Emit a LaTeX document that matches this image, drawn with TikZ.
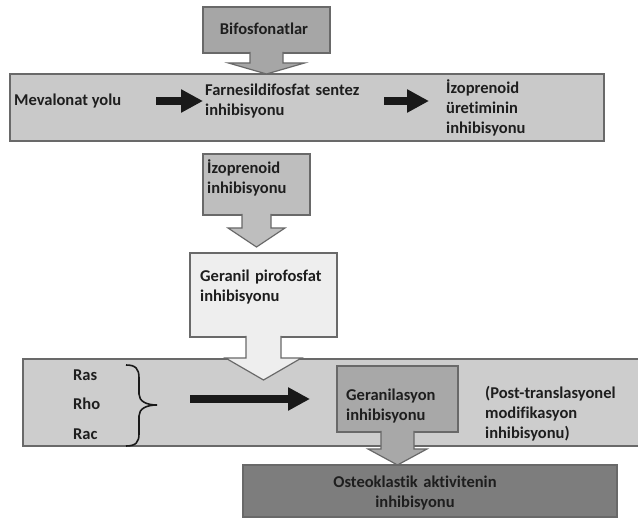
\documentclass[tikz,border=0pt]{standalone}
\usepackage{fontspec}
\setmainfont{Carlito}[Ligatures=NoCommon]
\usepackage{tikz}
\usetikzlibrary{arrows.meta, calc}
\definecolor{boxline}{RGB}{105,105,105}
\definecolor{textdark}{RGB}{30,30,30}
\definecolor{arrowblack}{RGB}{25,25,25}
\definecolor{bifosgray}{RGB}{166,166,166}
\definecolor{mevgray}{RGB}{201,201,201}
\definecolor{izogray}{RGB}{190,190,190}
\definecolor{geranilgray}{RGB}{238,238,238}
\definecolor{rasgray}{RGB}{205,205,205}
\definecolor{geranilasyongray}{RGB}{168,168,168}
\definecolor{osteogray}{RGB}{125,125,125}
\newcommand{\blockdown}[6]{%
  \draw[draw=boxline, line width=1.2pt, fill=#6]
    ([xshift=-#3, yshift=1pt]#1.south) -- ([xshift=-#3, yshift=#5]#2) -- ([xshift=-#4, yshift=#5]#2) -- (#2)
    -- ([xshift=#4, yshift=#5]#2) -- ([xshift=#3, yshift=#5]#2) -- ([xshift=#3, yshift=1pt]#1.south);}

\begin{document}
\begin{tikzpicture}[x=1pt, y=-1pt,
    box/.style={draw=boxline, line width=1.2pt, inner sep=0pt, outer sep=0pt},
    txt/.style={inner sep=0pt, text=textdark, align=left, font=\bfseries\fontsize{16.5}{20}\selectfont},
    fatarrow/.style={draw=arrowblack, line width=7.5pt, -{Triangle[length=22pt,width=22pt]}}]
    \useasboundingbox (0,0) rectangle (638,518);
    \fill[white] (0,0) rectangle (638,518);
    % boxes
    \node (mevbox)       at (307,107.5) [box, fill=mevgray, minimum width=594pt, minimum height=67pt] {};
    \node (bifos)        at (266.5,30)  [box, fill=bifosgray, minimum width=127pt, minimum height=46pt] {};
    \node (izoinh)       at (256.5,184.5) [box, fill=izogray, minimum width=107pt, minimum height=61pt] {};
    \node (geranil)      at (263.5,295) [box, fill=geranilgray, minimum width=147pt, minimum height=84pt] {};
    \node (rasbox)       at (334,402.5) [box, fill=rasgray, minimum width=622pt, minimum height=87pt] {};
    \node (geranilasyon) at (397.5,399) [box, fill=geranilasyongray, minimum width=121pt, minimum height=66pt] {};
    \node (osteo)        at (430,491)   [box, fill=osteogray, minimum width=374pt, minimum height=52pt] {};
    % texts
    \node (bifostext)  at (264,34.5)  [txt, anchor=base] {Bifosfonatlar};
    \node (mevalonat)  at (14,105.5)  [txt, anchor=base west] {Mevalonat yolu};
    \node (farnesil)   at (205,95.5)  [txt, anchor=base west, text width=160pt] {Farnesildifosfat sentez\\inhibisyonu};
    \node (izoprod)    at (446,93.5)  [txt, anchor=base west, text width=100pt] {İzoprenoid\\üretiminin\\inhibisyonu};
    \node (izoinhtext) at (207,173.5) [txt, anchor=base west, text width=95pt] {İzoprenoid\\inhibisyonu};
    \node (geraniltext) at (200,281.5) [txt, anchor=base west, text width=135pt] {Geranil pirofosfat\\inhibisyonu};
    \node (ras) at (73,380.5) [txt, anchor=base west] {Ras};
    \node (rho) at (73,410)   [txt, anchor=base west] {Rho};
    \node (rac) at (73,439.5) [txt, anchor=base west] {Rac};
    \node (geranilasyontext) at (346,400.5) [txt, anchor=base west, text width=105pt] {Geranilasyon\\inhibisyonu};
    \node (posttrans)  at (485,398.5) [txt, anchor=base west, text width=150pt] {(Post-translasyonel\\modifikasyon\\inhibisyonu)};
    \node (osteotext)  at (415,487.5) [txt, anchor=base, align=center, text width=220pt] {Osteoklastik aktivitenin\\inhibisyonu};
    % brace
    \coordinate (bracetip) at (157,405);
    \draw[arrowblack, line width=1.6pt] (126,365) .. controls (136,365) and (139,369) .. (139,378) -- (139,394)
        .. controls (139,401) and (146,405) .. (bracetip) .. controls (146,405) and (139,409) .. (139,416)
        -- (139,434) .. controls (139,442) and (136,446) .. (126,446);
    % black arrows
    \draw[fatarrow, shorten <=35pt, shorten >=2pt] (mevalonat.east) -- (mevalonat.east -| farnesil.west);
    \draw[fatarrow, shorten <=19pt, shorten >=17pt] (farnesil.east) -- (farnesil.east -| izoprod.west);
    \draw[fatarrow, shorten <=33pt, shorten >=27pt] (bracetip |- geranilasyon) -- (geranilasyon);
    % block arrows
    \coordinate (tipbifos) at (bifos.south |- mevbox.north);
    \coordinate (tipizo) at ($(izoinh.south |- geranil.north)+(0,-6)$);
    \coordinate (tipgeranil) at ($(geranil.south |- rasbox.north)+(0,21)$);
    \coordinate (tipgeranilasyon) at (geranilasyon.south |- osteo.north);
    \blockdown{bifos}{tipbifos}{16.5pt}{38pt}{11pt}{bifosgray}
    \blockdown{izoinh}{tipizo}{14.5pt}{28.5pt}{19pt}{izogray}
    \blockdown{geranil}{tipgeranil}{17.5pt}{38pt}{22pt}{geranilgray}
    \blockdown{geranilasyon}{tipgeranilasyon}{16.5pt}{29.5pt}{16pt}{geranilasyongray}
\end{tikzpicture}
\end{document}
